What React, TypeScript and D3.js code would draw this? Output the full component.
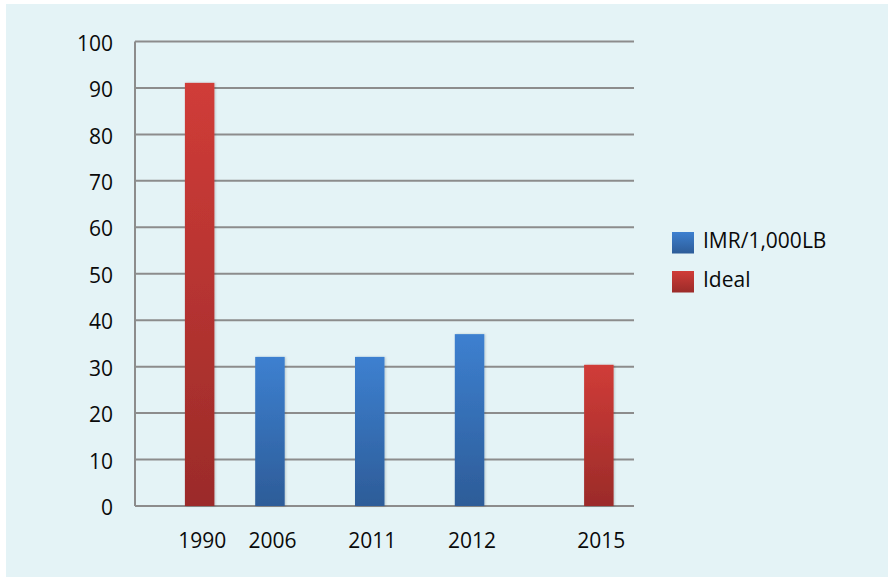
import React from "react";
import * as d3 from "d3";

const categories = ["1990", "2006", "2011", "2012", "2015"];
const seriesNames = ["IMR/1,000LB", "Ideal"];
const imrValues: (number | null)[] = [null, 32.1, 32.1, 37.0, null];
const idealValues: (number | null)[] = [91.1, null, null, null, 30.4];
const yTicks = [0, 10, 20, 30, 40, 50, 60, 70, 80, 90, 100];

const W = 888;
const H = 578;
const FONT = "'Open Sans', 'Noto Sans', sans-serif";
const FS = 21;

export default function App() {
  const left = 135;
  const right = 634;
  const top = 41.5;
  const bottom = 506;

  const y = d3.scaleLinear().domain([0, 100]).range([bottom, top]);
  const x = d3.scaleBand<string>().domain(categories).range([left, right]).padding(0);
  const barW = 29.5;

  const bars: { cat: string; s: number; v: number }[] = [];
  categories.forEach((c, i) => {
    if (imrValues[i] != null) bars.push({ cat: c, s: 0, v: imrValues[i] as number });
    if (idealValues[i] != null) bars.push({ cat: c, s: 1, v: idealValues[i] as number });
  });

  const barX = (cat: string, s: number) => {
    const center = (x(cat) as number) + x.bandwidth() / 2;
    return s === 0 ? center - barW : center;
  };

  return (
    <svg
      width={W}
      height={H}
      style={{ position: "absolute", left: 0, top: 0, background: "#ffffff" }}
    >
      <defs>
        <linearGradient id="gBlue" x1="0" y1="0" x2="0" y2="1">
          <stop offset="0" stopColor="#3d80d0" />
          <stop offset="1" stopColor="#2d5c98" />
        </linearGradient>
        <linearGradient id="gRed" x1="0" y1="0" x2="0" y2="1">
          <stop offset="0" stopColor="#d03c38" />
          <stop offset="1" stopColor="#9b2b29" />
        </linearGradient>
        <filter id="sh" x="-20%" y="-5%" width="140%" height="110%">
          <feDropShadow dx="1" dy="0" stdDeviation="1.2" floodColor="#000" floodOpacity="0.18" />
        </filter>
      </defs>
      <rect x={6} y={4} width={W - 6} height={H - 5} fill="#e4f3f6" />

      {yTicks.map((t) => (
        <line
          key={"g" + t}
          x1={left}
          x2={right}
          y1={y(t)}
          y2={y(t)}
          stroke="#8c8c8c"
          strokeWidth={2}
        />
      ))}
      <line x1={left} x2={left} y1={top} y2={bottom} stroke="#8c8c8c" strokeWidth={2} />

      {yTicks.map((t) => (
        <text
          key={"t" + t}
          x={113}
          y={y(t) + 3.5}
          textAnchor="end"
          dominantBaseline="middle"
          fontFamily={FONT}
          fontSize={FS}
          fill="#0a0a0a"
        >
          {t}
        </text>
      ))}

      {bars.map((b, i) => (
        <rect
          key={"b" + i}
          x={barX(b.cat, b.s)}
          y={y(b.v)}
          width={barW}
          height={bottom - y(b.v)}
          fill={b.s === 0 ? "url(#gBlue)" : "url(#gRed)"}
          filter="url(#sh)"
        />
      ))}

      {bars.map((b, i) => (
        <text
          key={"l" + i}
          x={barX(b.cat, b.s) + barW / 2 + 2.5}
          y={548}
          textAnchor="middle"
          fontFamily={FONT}
          fontSize={FS}
          fill="#0a0a0a"
        >
          {b.cat}
        </text>
      ))}

      {seriesNames.map((n, i) => (
        <g key={"lg" + i} transform={`translate(672, ${232 + i * 39})`}>
          <rect width={22} height={21.5} fill={i === 0 ? "url(#gBlue)" : "url(#gRed)"} />
          <text x={31} y={15.5} fontFamily={FONT} fontSize={FS} fill="#0a0a0a">
            {n}
          </text>
        </g>
      ))}
    </svg>
  );
}
